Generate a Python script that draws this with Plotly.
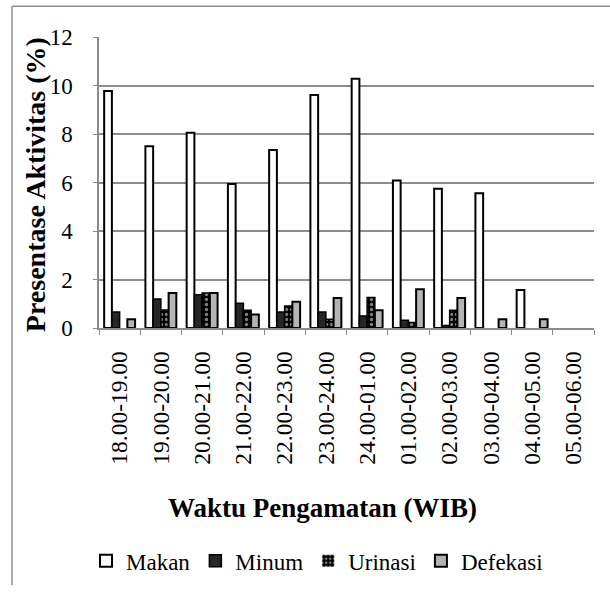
import plotly.graph_objects as go

# Observation periods (WIB)
waktu = ["18.00-19.00", "19.00-20.00", "20.00-21.00", "21.00-22.00",
         "22.00-23.00", "23.00-24.00", "24.00-01.00", "01.00-02.00",
         "02.00-03.00", "03.00-04.00", "04.00-05.00", "05.00-06.00"]

# Activity percentages per period
makan = [9.77, 7.49, 8.05, 5.94, 7.34, 9.61, 10.28, 6.08, 5.74, 5.56, 1.57, 0]
minum = [0.66, 1.20, 1.37, 1.02, 0.66, 0.66, 0.50, 0.32, 0.10, 0, 0, 0]
urinasi = [0, 0.74, 1.44, 0.73, 0.91, 0.36, 1.26, 0.23, 0.73, 0, 0, 0]
defekasi = [0.36, 1.44, 1.44, 0.56, 1.08, 1.24, 0.73, 1.60, 1.24, 0.36, 0.36, 0]

FONT = "Liberation Serif"
W, H = 610, 595
L, R, T, B = 99, 16, 36.5, 261


def outline(vals, w):
    # no outline on empty bars so nothing is drawn at zero
    return [w if v > 0 else 0 for v in vals]


fig = go.Figure()
fig.add_bar(name="Makan", x=waktu, y=makan,
            marker=dict(color="white", line=dict(color="black", width=outline(makan, 2))))
fig.add_bar(name="Minum", x=waktu, y=minum,
            marker=dict(color="#262626", line=dict(color="black", width=outline(minum, 1.5))))
fig.add_bar(name="Urinasi", x=waktu, y=urinasi,
            marker=dict(color="black", line=dict(color="black", width=outline(urinasi, 1.5)),
                        pattern=dict(shape=".", bgcolor="black", fgcolor="white",
                                     size=5, solidity=0.35)))
fig.add_bar(name="Defekasi", x=waktu, y=defekasi,
            marker=dict(color="#b4b4b4", line=dict(color="black", width=outline(defekasi, 2))))

pw = W - L - R
ph = H - T - B


def px_x(x):
    return (x - L) / pw


def px_y(y):
    return (H - B - y) / ph


# outer chart frame (top and left edges)
fig.add_shape(type="line", xref="paper", yref="paper",
              x0=px_x(12), x1=px_x(612), y0=px_y(5), y1=px_y(5),
              line=dict(color="#8c8c8c", width=1.5))
fig.add_shape(type="line", xref="paper", yref="paper",
              x0=px_x(12), x1=px_x(12), y0=px_y(5), y1=px_y(597),
              line=dict(color="#8c8c8c", width=1.5))

fig.add_annotation(text="<b>Presentase Aktivitas (%)</b>", xref="paper", yref="paper",
                   x=px_x(35), y=px_y(188), xanchor="center", yanchor="middle",
                   textangle=-90, showarrow=False,
                   font=dict(family=FONT, size=28, color="black"))
fig.add_annotation(text="<b>Waktu Pengamatan (WIB)</b>", xref="paper", yref="paper",
                   x=px_x(322), y=px_y(518), xanchor="center", yanchor="middle",
                   showarrow=False,
                   font=dict(family=FONT, size=27, color="black"))

fig.update_layout(
    width=W, height=H,
    margin=dict(l=L, r=R, t=T, b=B),
    paper_bgcolor="white", plot_bgcolor="white",
    barmode="group", bargap=0.25, bargroupgap=0,
    font=dict(family=FONT, size=22, color="black"),
    legend=dict(orientation="h", x=px_x(86), y=px_y(572), xanchor="left",
                yanchor="middle", font=dict(family=FONT, size=23),
                itemwidth=30, tracegroupgap=0, bgcolor="rgba(0,0,0,0)"),
    showlegend=True,
)
fig.update_xaxes(type="category", tickangle=-90, showline=True, linecolor="#8c8c8c",
                 linewidth=1.5, ticks="outside", tickson="boundaries", ticklen=5,
                 tickcolor="#8c8c8c", showgrid=False, ticklabelstandoff=12,
                 tickfont=dict(family=FONT, size=23.5, color="black"))
fig.update_yaxes(range=[0, 12], dtick=2, showline=True, linecolor="#8c8c8c",
                 linewidth=1.5, ticks="outside", ticklen=4, tickcolor="#8c8c8c",
                 showgrid=True, gridcolor="#8c8c8c", gridwidth=1.5, zeroline=False,
                 ticklabelstandoff=16,
                 tickfont=dict(family=FONT, size=23, color="black"))

fig.write_html("out.html")
